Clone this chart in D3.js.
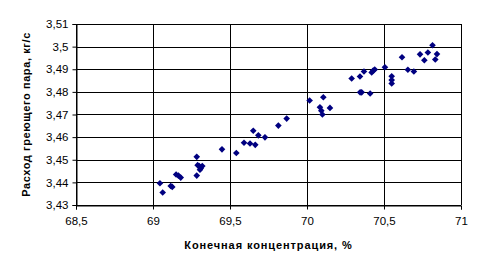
<!DOCTYPE html>
<html>
<head>
<meta charset="utf-8">
<script src="https://cdn.jsdelivr.net/npm/d3@7"></script>
<style>
  body { margin: 0; background: #fff; }
  text { font-family: "Liberation Sans", Arial, sans-serif; }
</style>
</head>
<body>
<div id="chart"></div>
<script>
// concentration (%) and steam flow (kg/s)
var conc = [
    69.045, 69.063, 69.115, 69.125, 69.15, 69.165, 69.18,
    69.284, 69.284, 69.29, 69.30, 69.31, 69.32, 69.305,
    69.448, 69.541, 69.591, 69.63, 69.664, 69.651, 69.684, 69.727,
    69.814, 69.868, 70.017, 70.084, 70.093, 70.10, 70.106, 70.149,
    70.29, 70.344, 70.37, 70.42, 70.43, 70.44, 70.506,
    70.345, 70.355, 70.41,
    70.55, 70.55, 70.55, 70.617, 70.655, 70.694,
    70.734, 70.762, 70.785, 70.815, 70.844, 70.833
];
var flow = [
    3.4396, 3.4355, 3.4384, 3.4380, 3.4435, 3.4430, 3.4421,
    3.4513, 3.4430, 3.4476, 3.4472, 3.4462, 3.4472, 3.4456,
    3.4546, 3.4530, 3.4575, 3.4572, 3.4566, 3.4628, 3.4608, 3.4599,
    3.4651, 3.4682, 3.4762, 3.4732, 3.4717, 3.4700, 3.4776, 3.4729,
    3.4859, 3.4868, 3.4890, 3.4886, 3.4894, 3.4899, 3.4909,
    3.4798, 3.4798, 3.4793,
    3.4869, 3.4852, 3.4837, 3.4953, 3.4898, 3.4890,
    3.4966, 3.4940, 3.4974, 3.5006, 3.4967, 3.4943
];
var xTicks = [68.5, 69, 69.5, 70, 70.5, 71];
var yTicks = [3.43, 3.44, 3.45, 3.46, 3.47, 3.48, 3.49, 3.5, 3.51];

var w = 491;   // width
var h = 272;   // height
var padL = 76, padR = 461, padT = 24, padB = 205;  // plot area edges

var dataset = conc.map(function(c, i) { return [c, flow[i]]; });

var xScale = d3.scaleLinear().domain([68.5, 71]).range([padL, padR]);
var yScale = d3.scaleLinear().domain([3.43, 3.51]).range([padB, padT]);

var fmt = function(v) { return String(+v.toFixed(2)).replace(".", ","); };

var svg = d3.select("#chart")
    .append("svg")
    .attr("width", w)
    .attr("height", h);

// horizontal grid lines
svg.append("g")
    .selectAll("line")
    .data(yTicks)
    .enter()
    .append("line")
    .attr("x1", padL).attr("x2", padR)
    .attr("y1", function(d) { return Math.round(yScale(d)) + 0.5; })
    .attr("y2", function(d) { return Math.round(yScale(d)) + 0.5; })
    .attr("stroke", "#000").attr("stroke-width", 1);

// vertical grid lines
svg.append("g")
    .selectAll("line")
    .data(xTicks)
    .enter()
    .append("line")
    .attr("y1", padT).attr("y2", padB)
    .attr("x1", function(d) { return Math.round(xScale(d)) + 0.5; })
    .attr("x2", function(d) { return Math.round(xScale(d)) + 0.5; })
    .attr("stroke", "#000").attr("stroke-width", 1);

// axes
var xAxis = d3.axisBottom(xScale).tickValues(xTicks).tickSize(4).tickPadding(7).tickFormat(fmt);
var yAxis = d3.axisLeft(yScale).tickValues(yTicks).tickSize(4).tickPadding(4).tickFormat(fmt);

var gx = svg.append("g")
    .attr("transform", "translate(0," + (padB + 0.5) + ")")
    .call(xAxis);
var gy = svg.append("g")
    .attr("transform", "translate(" + (padL + 0.5) + ",0)")
    .call(yAxis);

[gx, gy].forEach(function(g) {
    g.selectAll("path, line").attr("stroke", "#000");
    g.selectAll("text")
        .attr("font-family", "Liberation Sans, Arial, sans-serif")
        .attr("font-size", "11.5px")
        .attr("fill", "#000");
});

// diamond markers (square turned 45 degrees, like Excel's)
var diamond = d3.symbol().type(d3.symbolSquare).size(22);
svg.append("g")
    .selectAll("path")
    .data(dataset)
    .enter()
    .append("path")
    .attr("d", diamond)
    .attr("transform", function(d) { return "translate(" + xScale(d[0]) + "," + yScale(d[1]) + ") rotate(45)"; })
    .attr("fill", "#000080");

// axis titles
svg.append("text")
    .attr("text-anchor", "middle")
    .attr("x", (padL + padR) / 2)
    .attr("y", 249)
    .attr("font-size", "11px")
    .attr("font-weight", "bold")
    .attr("letter-spacing", "0.9px")
    .attr("fill", "#000")
    .text("Конечная концентрация, %");

svg.append("text")
    .attr("text-anchor", "middle")
    .attr("transform", "rotate(-90)")
    .attr("x", -(padT + padB) / 2)
    .attr("y", 30)
    .attr("font-size", "11px")
    .attr("font-weight", "bold")
    .attr("letter-spacing", "0.6px")
    .attr("fill", "#000")
    .text("Расход греющего пара, кг/с");
</script>
</body>
</html>
